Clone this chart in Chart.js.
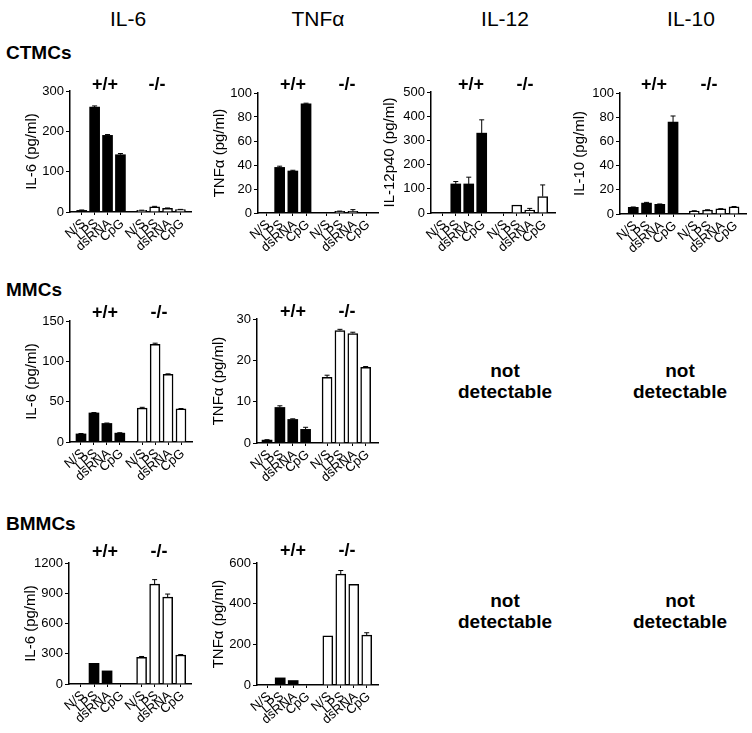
<!DOCTYPE html>
<html><head><meta charset="utf-8">
<script src="https://cdn.jsdelivr.net/npm/chart.js@4.4.0/dist/chart.umd.min.js"></script>
<style>
html,body{margin:0;padding:0;background:#fff;}
body{width:752px;height:733px;position:relative;overflow:hidden;font-family:"Liberation Sans",Arial,Helvetica,sans-serif;color:#000;}
.t{position:absolute;white-space:nowrap;transform:translate(-50%,-50%);line-height:1;}
.hdr{font-size:21px;}
.row{font-size:19px;font-weight:bold;transform:translate(0,-50%);}
.geno{font-size:18px;font-weight:bold;}
.nd{font-size:19px;font-weight:bold;text-align:center;line-height:21px;}
canvas{position:absolute;}
</style></head><body>
<script>
// ---------- data ----------
const treatments = ['N/S', 'LPS', 'dsRNA', 'CpG'];
const columnTitles = ['IL-6', 'TNFα', 'IL-12', 'IL-10'];
const cellTypes = ['CTMCs', 'MMCs', 'BMMCs'];
const genotypes = ['+/+', '-/-'];
const notDetectable = ['not', 'detectable'];

// CTMCs
const ctmcIL6WT = [4, 260, 190, 142];
const ctmcIL6WTErr = [1, 3, 2, 3];
const ctmcIL6KO = [4, 13, 9, 6];
const ctmcIL6KOErr = [0.5, 1, 1, 0.5];
const ctmcIL6Ticks = [0, 100, 200, 300];

const ctmcTNFWT = [0, 38, 35, 91];
const ctmcTNFWTErr = [0, 1, 0.6, 0.5];
const ctmcTNFKO = [0, 1.3, 1.3, 0];
const ctmcTNFKOErr = [0, 0.3, 1.5, 0];
const ctmcTNFTicks = [0, 20, 40, 60, 80, 100];

const ctmcIL12WT = [0, 120, 120, 330];
const ctmcIL12WTErr = [0, 10, 28, 55];
const ctmcIL12KO = [0, 33, 12, 68];
const ctmcIL12KOErr = [0, 0, 7, 48];
const ctmcIL12Ticks = [0, 100, 200, 300, 400, 500];

const ctmcIL10WT = [5.5, 9, 8, 76];
const ctmcIL10WTErr = [0.3, 0.6, 0.3, 5];
const ctmcIL10KO = [2.5, 3.3, 4.2, 6];
const ctmcIL10KOErr = [0.2, 0.2, 0.2, 0.2];
const ctmcIL10Ticks = [0, 20, 40, 60, 80, 100];

// MMCs
const mmcIL6WT = [10, 36, 23, 11];
const mmcIL6WTErr = [0.5, 0.5, 0.5, 0.5];
const mmcIL6KO = [42, 121, 84, 41];
const mmcIL6KOErr = [1, 1.5, 0.5, 0.5];
const mmcIL6Ticks = [0, 50, 100, 150];

const mmcTNFWT = [0.7, 8.6, 5.7, 3.3];
const mmcTNFWTErr = [0.1, 0.4, 0.15, 0.5];
const mmcTNFKO = [15.9, 27.2, 26.5, 18.3];
const mmcTNFKOErr = [0.5, 0.3, 0.3, 0.2];
const mmcTNFTicks = [0, 10, 20, 30];

// BMMCs
const bmmcIL6WT = [0, 205, 130, 0];
const bmmcIL6WTErr = [0, 0, 0, 0];
const bmmcIL6KO = [265, 990, 862, 288];
const bmmcIL6KOErr = [8, 45, 30, 4];
const bmmcIL6Ticks = [0, 300, 600, 900, 1200];

const bmmcTNFWT = [0, 35, 22, 0];
const bmmcTNFWTErr = [0, 0, 0, 0];
const bmmcTNFKO = [242, 545, 495, 245];
const bmmcTNFKOErr = [0, 18, 0, 12];
const bmmcTNFTicks = [0, 200, 400, 600];

// ---------- layout ----------
const FONT = '"Liberation Sans", Arial, Helvetica, sans-serif';
const panels = [
  {title:'IL-6 (pg/ml)', wt:ctmcIL6WT, wtErr:ctmcIL6WTErr, ko:ctmcIL6KO, koErr:ctmcIL6KOErr, ticks:ctmcIL6Ticks, box:[70,191,91,212], xr:[-0.91,8.47], gap:4.65, g:[[105,84],[157,84]]},
  {title:'TNFα (pg/ml)', wt:ctmcTNFWT, wtErr:ctmcTNFWTErr, ko:ctmcTNFKO, koErr:ctmcTNFKOErr, ticks:ctmcTNFTicks, box:[258,378,93,213], xr:[-0.64,8.45], gap:4.55, g:[[293,84],[347,84]]},
  {title:'IL-12p40 (pg/ml)', wt:ctmcIL12WT, wtErr:ctmcIL12WTErr, ko:ctmcIL12KO, koErr:ctmcIL12KOErr, ticks:ctmcIL12Ticks, box:[431,555,92,213], xr:[-0.91,8.65], gap:4.7, wy:53, g:[[471,84],[525,84]]},
  {title:'IL-10 (pg/ml)', wt:ctmcIL10WT, wtErr:ctmcIL10WTErr, ko:ctmcIL10KO, koErr:ctmcIL10KOErr, ticks:ctmcIL10Ticks, box:[620,746,93,214], xr:[-1.0,8.5], gap:4.6, wy:52, g:[[654,84],[709,84]]},
  {title:'IL-6 (pg/ml)', wt:mmcIL6WT, wtErr:mmcIL6WTErr, ko:mmcIL6KO, koErr:mmcIL6KOErr, ticks:mmcIL6Ticks, box:[70,192,321,442], xr:[-0.85,8.58], gap:4.73, g:[[105,312],[159,312]]},
  {title:'TNFα (pg/ml)', wt:mmcTNFWT, wtErr:mmcTNFWTErr, ko:mmcTNFKO, koErr:mmcTNFKOErr, ticks:mmcTNFTicks, box:[257,378,319,443], xr:[-0.78,8.63], gap:4.67, g:[[293,311],[347,311]]},
  {title:'IL-6 (pg/ml)', wt:bmmcIL6WT, wtErr:bmmcIL6WTErr, ko:bmmcIL6KO, koErr:bmmcIL6KOErr, ticks:bmmcIL6Ticks, box:[69,191,563,684], xr:[-0.92,8.44], gap:4.65, g:[[105,551],[159,551]]},
  {title:'TNFα (pg/ml)', wt:bmmcTNFWT, wtErr:bmmcTNFWTErr, ko:bmmcTNFKO, koErr:bmmcTNFKOErr, ticks:bmmcTNFTicks, box:[257,378,563,685], xr:[-0.79,8.54], gap:4.67, g:[[293,550],[347,550]]}
];

function addText(txt, cls, x, y){
  const d = document.createElement('div');
  d.className = 't ' + cls;
  d.textContent = txt;
  d.style.left = x + 'px'; d.style.top = y + 'px';
  document.body.appendChild(d);
  return d;
}

// headers & row labels
[[128,18],[318,18],[505,18],[691,18]].forEach((p,i)=>addText(columnTitles[i],'hdr',p[0],p[1]));
[[6,52],[6,289],[6,523]].forEach((p,i)=>addText(cellTypes[i],'row',p[0],p[1]));
// not detectable
[[505,381],[680,381],[505,611],[680,611]].forEach(p=>{
  const d = addText('', 'nd', p[0], p[1]);
  d.innerHTML = notDetectable.join('<br>');
});

const errorBars = {
  id:'errorBars',
  afterDatasetsDraw(chart){
    const ctx = chart.ctx, ys = chart.scales.y;
    chart.data.datasets.forEach((ds,i)=>{
      const meta = chart.getDatasetMeta(i);
      meta.data.forEach((bar,j)=>{
        const e = ds.errors[j];
        if(!e) return;
        const v = ds.data[j].y;
        const yTop = ys.getPixelForValue(v + e);
        ctx.save();
        ctx.strokeStyle = '#000'; ctx.lineWidth = 1;
        ctx.beginPath();
        ctx.moveTo(bar.x, bar.y); ctx.lineTo(bar.x, yTop);
        ctx.moveTo(bar.x - 2.5, yTop); ctx.lineTo(bar.x + 2.5, yTop);
        ctx.stroke();
        ctx.restore();
      });
    });
  }
};

function makeChart(p){
  const WY = p.wy || 50, PT = 14, HX = 60, PR = 8;
  const [x0,x1,yt,y0] = p.box;
  const w = (x1-x0)+WY+PR, h = (y0-yt)+PT+HX;
  const c = document.createElement('canvas');
  c.width = w; c.height = h;
  c.style.left = (x0-WY)+'px'; c.style.top = (yt-PT)+'px';
  c.style.width = w+'px'; c.style.height = h+'px';
  document.body.appendChild(c);
  const pos = treatments.map((_,i)=>i);
  const pos2 = treatments.map((_,i)=>i+p.gap);
  const tickPos = pos.concat(pos2);
  const tickLabels = treatments.concat(treatments);
  const xGrid = {display:true, drawOnChartArea:false, drawTicks:true, tickLength:3, color:'#000', lineWidth:1, offset:false};
  const yGrid = {display:true, drawOnChartArea:false, drawTicks:true, tickLength:4, color:'#000', lineWidth:1, offset:false};
  const axBorder = {display:true, color:'#000', width:1.5};
  new Chart(c, {
    type:'bar',
    data:{datasets:[
      {label:genotypes[0], data:p.wt.map((v,i)=>({x:pos[i],y:v})), errors:p.wtErr, backgroundColor:'#000', borderColor:'#000', borderWidth:0},
      {label:genotypes[1], data:p.ko.map((v,i)=>({x:pos2[i],y:v})), errors:p.koErr, backgroundColor:'#fff', borderColor:'#000', borderWidth:1.5}
    ]},
    options:{
      responsive:false, maintainAspectRatio:false, animation:false, devicePixelRatio:1,
      layout:{padding:{left:0, top:PT, right:PR, bottom:0}},
      plugins:{legend:{display:false}, tooltip:{enabled:false}},
      datasets:{bar:{grouped:false, barThickness:10}},
      scales:{
        x:{type:'linear', min:p.xr[0], max:p.xr[1], offset:false,
           afterBuildTicks:s=>{s.ticks = tickPos.map(v=>({value:v}));},
           afterFit:s=>{s.height = HX;},
           grid:xGrid, border:axBorder,
           ticks:{autoSkip:false, minRotation:40, maxRotation:40, padding:1, labelOffset:2, color:'#000',
                  font:{family:FONT, size:13}, callback:(v,i)=>tickLabels[i]}},
        y:{type:'linear', min:0, max:p.ticks[p.ticks.length-1],
           afterBuildTicks:s=>{s.ticks = p.ticks.map(v=>({value:v}));},
           afterFit:s=>{s.width = WY;},
           grid:yGrid, border:axBorder,
           ticks:{padding:2, color:'#000', font:{family:FONT, size:13}, callback:v=>String(v)},
           title:{display:true, text:p.title, color:'#000', font:{family:FONT, size:15}, padding:{top:3, bottom:0}}}
      }
    },
    plugins:[errorBars]
  });
  addText(genotypes[0],'geno',p.g[0][0],p.g[0][1]);
  addText(genotypes[1],'geno',p.g[1][0],p.g[1][1]);
}
panels.forEach(makeChart);
</script>
</body></html>
